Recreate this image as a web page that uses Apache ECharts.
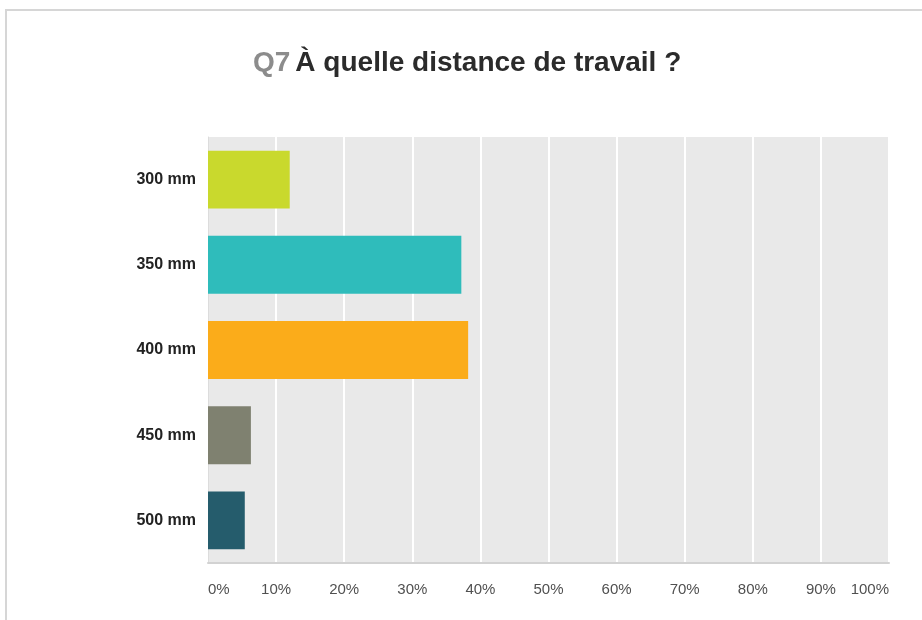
<!DOCTYPE html>
<html>
<head>
<meta charset="utf-8">
<script src="https://cdn.jsdelivr.net/npm/echarts@6/dist/echarts.min.js"></script>
<style>
  html, body { margin: 0; padding: 0; background: #ffffff; }
  #frame { position: absolute; left: 5px; top: 9px; right: 0; bottom: 0;
           border-top: 2px solid #d6d6d6; border-left: 2px solid #d6d6d6; }
  #chart { position: absolute; left: 0; top: 0; width: 922px; height: 620px; }
</style>
</head>
<body>
<div id="frame"></div>
<div id="chart"></div>
<script>
const categories = ['300 mm', '350 mm', '400 mm', '450 mm', '500 mm'];
const values = [12.0, 37.2, 38.2, 6.3, 5.4];
const barColors = ['#c9d92d', '#2fbcbb', '#fbac1a', '#7f8170', '#255c6c'];
const xTicks = [0, 10, 20, 30, 40, 50, 60, 70, 80, 90, 100];

const chart = echarts.init(document.getElementById('chart'), null, { renderer: 'canvas' });
chart.setOption({
  animation: false,
  backgroundColor: 'transparent',
  title: {
    text: '{q|Q7} {t|À quelle distance de travail ?}',
    left: 248,
    top: 44,
    textStyle: {
      rich: {
        q: { fontFamily: 'Liberation Sans, Arial, sans-serif', fontSize: 28, color: '#8c8c8c', fontWeight: 'bold' },
        t: { fontFamily: 'Liberation Sans, Arial, sans-serif', fontSize: 28, color: '#2b2b2b', fontWeight: 'bold' }
      }
    }
  },
  grid: { left: 208, right: 33, top: 137, bottom: 57, containLabel: false,
          show: true, backgroundColor: '#e9e9e9', borderWidth: 0 },
  xAxis: {
    type: 'value',
    min: xTicks[0],
    max: xTicks[xTicks.length - 1],
    interval: 10,
    axisLine: { show: true, lineStyle: { color: '#d2d2d2', width: 2 } },
    axisTick: { show: false },
    splitLine: { show: true, lineStyle: { color: '#ffffff', width: 2 } },
    axisLabel: {
      formatter: v => v + '%',
      margin: 19,
      fontFamily: 'Liberation Sans, Arial, sans-serif',
      fontSize: 15,
      color: '#505050',
      alignMinLabel: 'left',
      alignMaxLabel: 'right'
    }
  },
  yAxis: {
    type: 'category',
    data: categories,
    inverse: true,
    axisLine: { show: true, lineStyle: { color: '#dcdcdc', width: 1 } },
    axisTick: { show: false },
    splitLine: { show: false },
    axisLabel: {
      margin: 12,
      fontFamily: 'Liberation Sans, Arial, sans-serif',
      fontSize: 16,
      fontWeight: 'bold',
      color: '#222222'
    }
  },
  series: [{
    type: 'bar',
    data: values.map((v, i) => ({ value: v, itemStyle: { color: barColors[i] } })),
    barCategoryGap: '32%',
    silent: true
  }]
});
</script>
</body>
</html>
